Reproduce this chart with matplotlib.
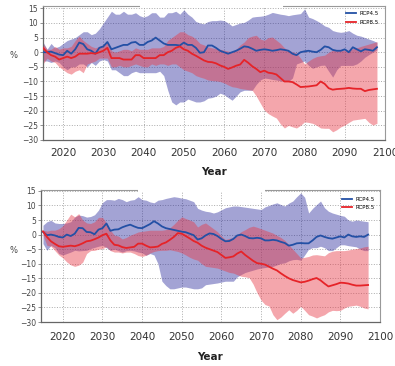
import numpy as np
import matplotlib
matplotlib.use("Agg")
import matplotlib.pyplot as plt

plt.rcParams['font.family'] = ['Liberation Sans Narrow', 'DejaVu Sans']

# ---- top panel data (2015-2098) ----
years_top = np.arange(2015, 2099)

top_rcp45 = [0, 0, 0.2, -0.3, -0.8, -1, 0.5, -0.5, 1, 3.3,
             2.8, 1, 0.5, -0.5, 1.5, 2, 3.5, 1, 1.5, 2,
             2.5, 2.5, 3.3, 3.5, 2.5, 2.5, 3.5, 4, 5, 4,
             3, 2.5, 2.5, 2.5, 2.3, 3.3, 2.5, 2.5, 1.5, -0.2,
             0, 2.3, 2.3, 1.5, 0.5, 0, -0.5, 0, 0.5, 1.2,
             2, 1.8, 1.2, 0.5, 0.8, 1, 0.8, 0.5, 0.7, 1,
             0.8, 0.5, -0.5, -1, 0, 0.3, 0.5, 0.2, 0, 0.8,
             2, 1.7, 0.8, 0.5, 0.5, 1, 0, 1.7, 1, 0.3,
             1, 0.8, 0.5, 1.7]
top_rcp45_hi = [3.5, 1, 3, 1.5, 2, 3, 4, 4.5, 5, 6,
                7, 7, 6, 6.5, 8, 10, 12, 14, 13, 13,
                14, 13, 13, 13.5, 12.5, 12, 12.5, 13.5, 13.5, 12,
                12, 13.5, 13.5, 14, 13, 14.5, 13, 12, 10.5, 10,
                9.7, 10.5, 10.8, 10.8, 11, 10.8, 10, 9, 9.5, 10,
                10.2, 11, 12, 12.2, 12.3, 12.5, 13, 13.6, 13.3, 13,
                12.8, 12.5, 12.8, 13, 13.2, 14.8, 12, 11.5, 10.8, 10,
                9, 8.5, 7.4, 7, 6.8, 7, 7.4, 6.5, 5.8, 5.5,
                5, 4.5, 4, 3.4]
top_rcp45_lo = [-3, -3, -3.5, -3, -3.5, -5, -6, -5, -5, -4,
                -4, -5, -3.5, -4.5, -3, -2.5, -3, -6, -6, -7,
                -8, -8, -7, -6.5, -7, -7, -7, -7, -7, -6.5,
                -8, -13, -17, -18, -17, -17, -16, -16.5, -17, -17,
                -16.6, -15.7, -15.5, -15, -14, -14.5, -15.5, -16.4, -15, -13.5,
                -13, -13, -13, -11, -9.5, -8.8, -9, -9.3, -9.5, -9.8,
                -10, -10, -8.8, -4, -3.5, -3, -4.5, -5.5, -5, -4.5,
                -4.4, -6.5, -8.5, -6, -4.5, -4.5, -4.5, -4.5, -4, -3,
                -1.7, -0.8, 0, 0.8]
top_rcp85 = [1.5, 0, -1, -1.5, -2.5, -2, -1.5, -2, -1.5, -0.5,
             -0.5, -0.5, -0.3, -0.5, 0, 0.5, 1.5, -2, -2, -2,
             -2.5, -2.5, -2.5, -1, -1, -2, -2, -2, -2, -1,
             -1, 0, 0.5, 1.5, 2, 1, 0.5, -0.5, -1.2, -2,
             -2.8, -3.3, -3.4, -3.8, -4.5, -5, -5.7, -5.2, -4.6, -4.2,
             -2.6, -3.6, -4.8, -5.7, -6.8, -6.3, -7, -7.2, -7.6, -8.8,
             -10, -10, -10.2, -11, -11.9, -11.8, -11.7, -11.5, -11.3, -10,
             -10.8, -12.3, -12.8, -12.6, -12.5, -12.4, -12.2, -12.4, -12.5, -12.5,
             -13.3, -12.9, -12.7, -12.5]
top_rcp85_hi = [3, 1, 1, 2, 1, 1.5, 1.5, 2, 4, 5.5,
                4, 3, 2, 1.5, 2, 2.5, 3.5, 0.5, 0, 0.5,
                1, 1, 0.5, 1.5, 1, 1, 1, 1.5, 1.5, 1.5,
                2, 4, 5, 6, 7, 7, 6, 5.5, 4.5, 3,
                2.5, 1.8, 1.5, 1.2, 1, 0.7, 0.4, 0.1, 1, 2.5,
                3.5, 5, 5.5, 5.8, 4.5, 4.1, 5, 5.2, 4.1, 3,
                1.5, 0.7, 0.1, -0.3, -2, -4, -3, -2.1, -1.5, -1.2,
                -1, 0, 0.7, 0.7, 0.7, 0.7, 0.8, 1.2, 1.5, 2,
                2.4, 2.8, 3.2, 3.6]
top_rcp85_lo = [-4, -2, -3, -3.5, -5, -6, -7, -7.5, -6.5, -6,
                -7, -4, -3.5, -3, -2, -2, -2, -5, -5, -4.5,
                -5, -5, -4.5, -4, -4.5, -5, -5, -4, -4.5, -4,
                -4, -4.5, -4, -4, -5, -6, -6.5, -7, -8, -8.5,
                -8.9, -9.5, -9.7, -9.8, -10, -10.5, -11.2, -11.8, -12, -12.4,
                -12.6, -12.8, -13, -15, -17.4, -19.8, -21, -21.8, -22.5, -24.5,
                -25.9, -25, -25.5, -25.9, -25, -23.8, -24, -24.3, -25, -25.9,
                -26, -26, -27.2, -26.5, -25.5, -24.9, -24, -23.2, -23, -22.8,
                -22.6, -24, -24.9, -24.3]

# ---- bottom panel data (2015-2097) ----
years_bot = np.arange(2015, 2098)

bot_rcp45 = [0.9, -0.2, 0, -0.3, -0.8, -1, 0, -0.5, 0.3, 2.3,
             2.2, 0.9, 0.8, 0.1, 1.7, 2.2, 3.8, 1.3, 1.7, 1.8,
             2.5, 3, 3.4, 2.8, 2.3, 2.2, 2.9, 3.6, 4.6, 3.8,
             2.8, 2.2, 1.9, 1.6, 1.3, 1, 0.8, 0.3, -0.2, -1.7,
             -1.3, -0.3, 0.4, 0.2, -0.5, -1.5, -2.3, -2.2, -1.5, -0.3,
             0, -0.5, -1.2, -1.3, -1.1, -1.3, -2, -2, -1.8, -2,
             -2.5, -2.9, -3.8, -3.5, -3, -2.9, -3, -3, -2, -0.8,
             -0.3, -0.8, -1.2, -1.4, -1, -0.6, -1, 0, -0.6, -0.8,
             -0.6, -0.8, 0]
bot_rcp45_hi = [3.2, 4.4, 4.9, 4, 3.8, 3.8, 4, 4.4, 6, 6.7,
                6.5, 6, 6.2, 6.8, 8.4, 11, 12, 12, 11.8, 12.4,
                12, 11.3, 11.8, 12, 13, 12, 11.8, 11.2, 10.9, 11.8,
                12, 12.4, 12.7, 13, 12.8, 12.5, 12.3, 11.8, 11.3, 9,
                8.4, 8, 7.8, 7.4, 7.8, 8.5, 9.2, 9.5, 9.8, 9.8,
                9.6, 9.4, 9.2, 9, 8.8, 8.6, 9.5, 10, 10.5, 10.9,
                10.3, 9.8, 10.8, 11.5, 13, 14.3, 12.8, 7.4, 9, 10.3,
                11.5, 9.2, 8, 7.4, 7, 6.6, 6.3, 5, 4.6, 5,
                4.8, 4.6, 4.4]
bot_rcp45_lo = [-3.1, -5.4, -3.7, -4.5, -6.5, -7, -6.5, -6, -5.4, -5.6,
                -5.5, -5.4, -4.8, -4.4, -4, -3.7, -4.5, -5.4, -5, -5.5,
                -6, -5.5, -5.4, -5.6, -6, -6.3, -7.1, -6.5, -7, -10,
                -16, -17.5, -18.6, -18.6, -18.3, -18, -18, -18.3, -18.6, -18.6,
                -18.3, -17.2, -17, -16.8, -16.6, -16.3, -16, -16, -16, -14.5,
                -13.7, -13, -12.6, -12.2, -11.8, -11.5, -11.3, -11.1, -10.9, -10.4,
                -9.9, -9.7, -9, -8.6, -8.5, -8.8, -7, -5, -4.5, -4.5,
                -4, -4.5, -5.5, -5.5, -4.5, -3.5, -3.5, -3.8, -4, -4.2,
                -5, -5.5, -5.5]
bot_rcp85 = [1.1, -0.8, -2.3, -3.2, -4, -4.2, -4, -3.8, -4, -3.6,
             -3, -2.3, -2.1, -1.6, -1, -0.2, 0.3, -2, -3.5, -3.7,
             -4.3, -4.6, -4.4, -4.2, -3.1, -3.1, -3.8, -4.4, -4.3, -4.1,
             -3.2, -2.7, -1.8, -0.8, 0.5, 0.3, -0.5, -1.3, -2.2, -2.8,
             -3.8, -4.5, -5, -5.5, -6, -7, -8, -7.8, -7.5, -6.5,
             -5.8, -7, -8, -9, -9.8, -10, -10.3, -11, -11.7, -12.3,
             -13.3, -14.2, -15, -15.6, -16, -16.4, -16.2, -15.8, -15.3, -14.9,
             -15.7, -16.8, -17.8, -17.4, -17, -16.5, -16.6, -16.8, -17.2, -17.5,
             -17.5, -17.4, -17.3]
bot_rcp85_hi = [1.5, 1.2, 1.5, 1.5, 2, 3, 5, 7, 6.1, 7.2,
                5, 4, 3.8, 4.4, 5.9, 5.9, 4, 1.5, -0.2, -0.5,
                -1.5, -1, -0.2, 0.3, 0.9, 1.1, 1.3, 1.5, 1.5, 1.5,
                1.5, 1.7, 2.3, 3.5, 4.9, 6.1, 5.5, 5, 4.4, 2.6,
                3.5, 4, 3, 2, 1, -0.5, -1.7, -1.3, -1, 0,
                1, 1.7, 2.5, 2.9, 2.5, 2, 1.5, 1, 0.5, -0.3,
                -1, -2, -3.5, -5, -6.5, -8, -7.8, -7.5, -7, -6.9,
                -7.1, -7.3, -6.2, -5.7, -5.5, -5.5, -5.5, -5.3, -5, -4.8,
                -4.6, -4.2, -4]
bot_rcp85_lo = [-0.2, -3.7, -4, -5.5, -7, -8, -9.4, -10.4, -10.9, -10.5,
                -9.5, -6.5, -5.5, -5.4, -5, -4.8, -4.2, -5.5, -6, -6,
                -6.3, -6, -6, -6.5, -7.2, -7.5, -7.1, -6.3, -5.8, -5.5,
                -5.4, -5.4, -5.2, -5.5, -5.8, -6.3, -7, -7.8, -8.4, -8.8,
                -10, -10.9, -11.1, -11.3, -11.5, -12, -12.5, -13, -13.2, -13.8,
                -14.3, -14.5, -14.8, -17, -20, -22.5, -24, -24.5, -27.5, -29.2,
                -28.3, -27, -25.8, -27, -26, -24.6, -26, -27.5, -28, -28.6,
                -28, -27.5, -26.5, -26, -26.1, -26, -25.2, -24.6, -24.4, -24.2,
                -24.6, -25.2, -25.5]

labels = ["RCP4.5", "RCP8.5"]
blue_line = "#2350a5"
red_line = "#e62328"
blue_fill = "#24249a"
red_fill = "#e83a48"


def draw_panel(ax, years, m45, hi45, lo45, m85, hi85, lo85, xlim, ylim, leg_anchor, xpad):
    ax.fill_between(years, lo45, hi45, color=blue_fill, alpha=0.42, lw=0, zorder=1)
    ax.fill_between(years, lo85, hi85, color=red_fill, alpha=0.45, lw=0, zorder=2)
    ax.plot(years, m45, color=blue_line, lw=1.3, label=labels[0], zorder=4)
    ax.plot(years, m85, color=red_line, lw=1.3, label=labels[1], zorder=4)

    ax.set_xlim(*xlim)
    ax.set_ylim(*ylim)
    ax.set_xticks(np.arange(2020, 2101, 10))
    ax.set_yticks(np.arange(-30, 16, 5))
    ax.grid(True, linestyle=':', color='#aaaaaa', lw=0.7)
    ax.set_axisbelow(True)

    ax.tick_params(axis='y', labelsize=5.5, labelcolor='#444444', length=2,
                   width=0.5, color='#666666', pad=1.5)
    ax.tick_params(axis='x', labelsize=7.5, labelcolor='#333333', length=0, pad=xpad)
    for side in ['left', 'bottom']:
        ax.spines[side].set_color('#666666')
        ax.spines[side].set_linewidth(0.9)
    for side in ['top', 'right']:
        ax.spines[side].set_color('#999999')
        ax.spines[side].set_linewidth(0.8)

    ax.set_xlabel("Year", fontsize=7.5, fontweight='bold', color='#222222', labelpad=7)
    ax.legend(loc='upper right', bbox_to_anchor=leg_anchor, frameon=False,
              fontsize=4, handlelength=1.8, handletextpad=0.6, labelspacing=0.6,
              borderaxespad=0.2)


fig = plt.figure(figsize=(3.95, 3.66), dpi=100)

ax1 = fig.add_axes([0.1089, 0.6175, 0.8658, 0.3661])
draw_panel(ax1, years_top, top_rcp45, top_rcp45_hi, top_rcp45_lo,
           top_rcp85, top_rcp85_hi, top_rcp85_lo,
           (2015, 2100), (-30, 15.8), (0.99, 0.985), 5.5)
ax1.text(-0.085, 0.63, "%", transform=ax1.transAxes, fontsize=6, color='#444444',
         ha='center', va='center')

ax2 = fig.add_axes([0.1038, 0.1202, 0.8582, 0.3607])
draw_panel(ax2, years_bot, bot_rcp45, bot_rcp45_hi, bot_rcp45_lo,
           bot_rcp85, bot_rcp85_hi, bot_rcp85_lo,
           (2014.5, 2099.45), (-30, 15.3), (0.995, 0.975), 7.5)
ax2.text(-0.082, 0.54, "%", transform=ax2.transAxes, fontsize=6, color='#444444',
         ha='center', va='center')

# white gaps over the top frame where the original title boxes sat
fig.add_artist(plt.Rectangle((140 / 395, 1 - 7.5 / 366), 143 / 395, 4 / 366,
                             transform=fig.transFigure, facecolor='white',
                             edgecolor='none', zorder=5))
fig.add_artist(plt.Rectangle((138 / 395, 1 - 191.5 / 366), 127 / 395, 4 / 366,
                             transform=fig.transFigure, facecolor='white',
                             edgecolor='none', zorder=5))

fig.savefig("out.png", dpi=100)
